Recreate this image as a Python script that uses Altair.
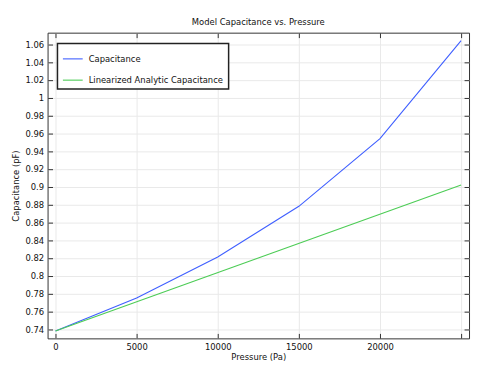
import altair as alt
import pandas as pd

# ---- data ----
pressure = [0, 5000, 10000, 15000, 20000, 25000]
capacitance = [0.738, 0.775, 0.821, 0.878, 0.954, 1.064]
linear_pressure = [0, 25000]
linear_capacitance = [0.738, 0.902]
series_names = ["Capacitance", "Linearized Analytic Capacitance"]
series_colors = ["#3f5fff", "#4ccc55"]
x_ticks = [0, 5000, 10000, 15000, 20000, 25000]
y_ticks = [0.74, 0.76, 0.78, 0.80, 0.82, 0.84, 0.86, 0.88, 0.90,
           0.92, 0.94, 0.96, 0.98, 1.00, 1.02, 1.04, 1.06]

rows = []
for p, c in zip(pressure, capacitance):
    rows.append({"p": p, "c": c, "series": series_names[0]})
for p, c in zip(linear_pressure, linear_capacitance):
    rows.append({"p": p, "c": c, "series": series_names[1]})
df = pd.DataFrame(rows)

xscale = alt.Scale(domain=[-488, 25488], nice=False, zero=False)
yscale = alt.Scale(domain=[0.7297, 1.073], nice=False, zero=False)

FONT = "DejaVu Sans"
FS = 8.5

base = alt.Chart(df)

lines = base.mark_line(strokeWidth=1.1).encode(
    x=alt.X("p:Q", scale=xscale,
            axis=alt.Axis(orient="bottom", values=x_ticks, format="d",
                          offset=-5, tickSize=5, domain=False, grid=True,
                          labelPadding=4, titlePadding=2,
                          labelExpr="datum.value == 25000 ? '' : datum.label",
                          title="Pressure (Pa)")),
    y=alt.Y("c:Q", scale=yscale,
            axis=alt.Axis(orient="left", values=y_ticks, format="~g",
                          offset=-5, tickSize=5, domain=False, grid=True,
                          labelPadding=4, titlePadding=4,
                          title="Capacitance (pF)")),
    color=alt.Color("series:N",
                    scale=alt.Scale(domain=series_names, range=series_colors),
                    legend=alt.Legend(title=None, orient="none",
                                      legendX=10, legendY=11)),
    detail="series:N",
)

frame_axes = base.mark_point(opacity=0).encode(
    x=alt.X("p:Q", scale=xscale,
            axis=alt.Axis(orient="top", values=x_ticks, offset=-5, tickSize=5,
                          labels=False, domain=False, grid=False, title=None)),
    y=alt.Y("c:Q", scale=yscale,
            axis=alt.Axis(orient="right", values=y_ticks, offset=-5, tickSize=5,
                          labels=False, domain=False, grid=False, title=None)),
)

chart = alt.layer(lines, frame_axes).resolve_axis(
    x="independent", y="independent"
).properties(
    width=426,
    height=309,
    title=alt.TitleParams("Model Capacitance vs. Pressure", fontSize=FS,
                          fontWeight="normal", font=FONT, color="#111",
                          anchor="middle", frame="group", offset=6),
    autosize=alt.AutoSizeParams(type="none"),
    padding={"left": 40, "top": 23, "right": 2, "bottom": 26},
).configure(
    font=FONT,
).configure_view(
    stroke="#333", strokeWidth=1,
).configure_axis(
    labelFont=FONT, labelFontSize=FS, labelColor="#111",
    titleFont=FONT, titleFontSize=FS, titleFontWeight="normal", titleColor="#111",
    tickColor="#333", tickWidth=1,
    gridColor="#e9e9e9", gridWidth=1,
).configure_legend(
    labelFont=FONT, labelFontSize=FS, labelColor="#111",
    symbolType="stroke", symbolSize=400, symbolStrokeWidth=1.1,
    labelOffset=5, rowPadding=5.5, padding=4.5,
    fillColor="white", strokeColor="#222", strokeWidth=1.5,
)

chart.save("out.html", embed_options={"renderer": "svg", "actions": False})
